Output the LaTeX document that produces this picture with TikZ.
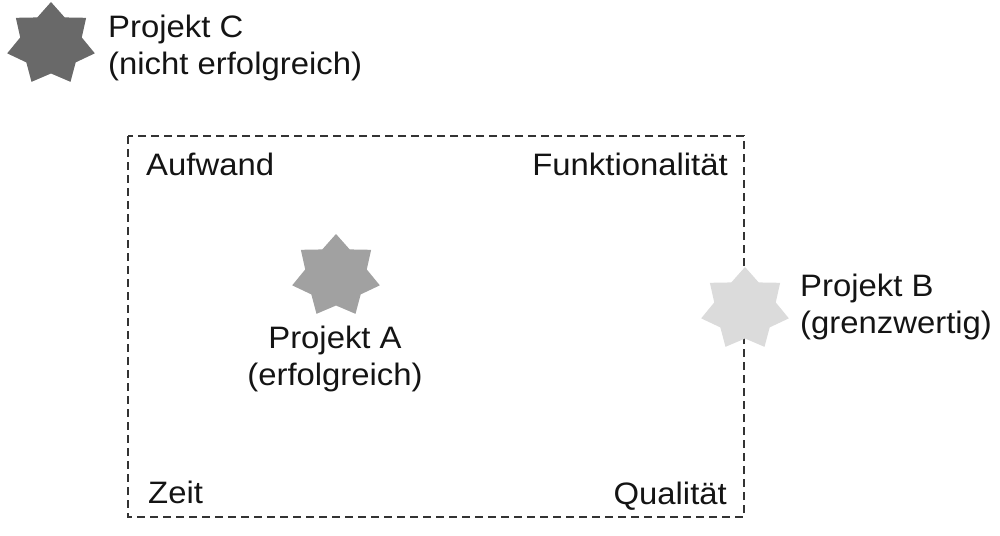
\documentclass[tikz,border=0pt]{standalone}
\usepackage{fontspec}
\setmainfont[FakeStretch=1.06]{Liberation Sans}

\tikzset{
  lbl/.style={inner sep=0pt, text=black!92, font=\fontsize{31}{37}\selectfont},
  frame/.style={line width=1.4pt, draw=black!80, dash pattern=on 8pt off 5pt},
  projstar/.pic={
    \fill[pic actions, xscale=1.07] (90:42)
      \foreach \k in {1,...,13} { -- ({90+\k*360/14}:{ifthenelse(isodd(\k),29.5,42)}) } -- cycle;
  }
}

\begin{document}
\begin{tikzpicture}[x=1pt,y=1pt]
	\useasboundingbox (0,0) rectangle (1000,-535);
	
	% Rahmen
	\draw[frame] (128,-136) rectangle (744,-517);
	\node[lbl, anchor=base west] (aufwand) at (146,-175) {Aufwand};
	\node[lbl, anchor=base east] (funktion) at (728,-175) {Funktionalität};
	\node[lbl, anchor=base west] (zeit) at (148,-503) {Zeit};
	\node[lbl, anchor=base east] (qualitaet) at (727,-504) {Qualität};
	
	% Projekt A
	\pic[fill=black!37] at (336,-276) {projstar};
	\node[lbl, anchor=north, align=center] (projA) at (335,-326) {Projekt A\\(erfolgreich)};
	
	% Projekt B
	\pic[fill=black!14] at (745,-309) {projstar};
	\node[lbl, anchor=north west, align=left] (projB) at (800,-274) {Projekt B\\(grenzwertig)};
	
	% Projekt C
	\pic[fill=black!59] at (51,-44) {projstar};
	\node[lbl, anchor=north west, align=left] (projC) at (108,-15) {Projekt C\\(nicht erfolgreich)};
\end{tikzpicture}
\end{document}
